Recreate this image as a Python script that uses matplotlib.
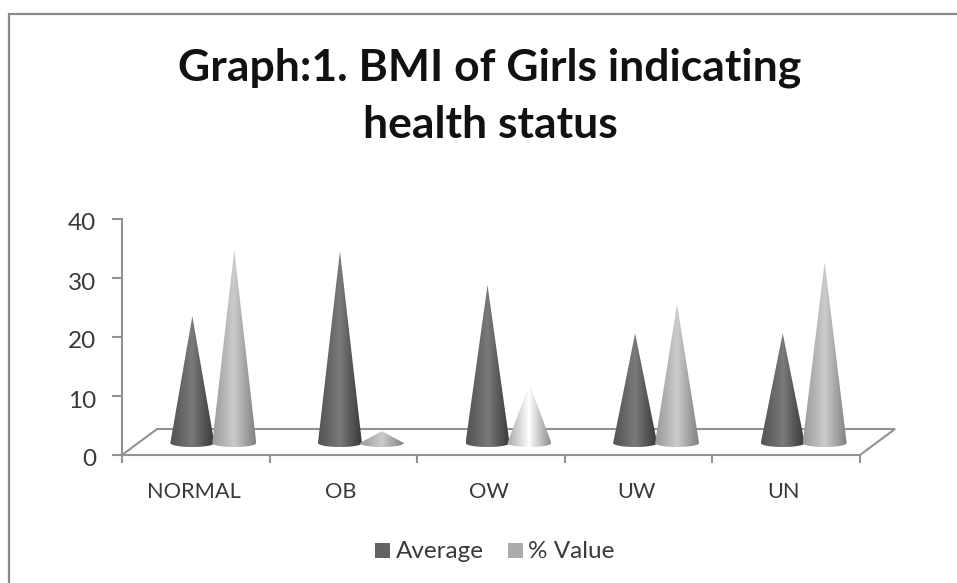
import matplotlib
matplotlib.use("Agg")
import matplotlib.pyplot as plt
import numpy as np
from matplotlib.lines import Line2D
from matplotlib.patches import PathPatch, Rectangle
from matplotlib.path import Path
from matplotlib.transforms import ScaledTranslation

plt.rcParams['font.family'] = ['Lato', 'DejaVu Sans']

# values
categories = ["NORMAL", "OB", "OW", "UW", "UN"]
average = [21.5, 32.5, 26.8, 18.6, 18.6]
pct_value = [32.7, 2.0, 10.0, 23.5, 30.7]
yticks = [0, 10, 20, 30, 40]

W, H = 957, 583
fig = plt.figure(figsize=(W / 100, H / 100), dpi=100)
fig.patch.set_facecolor("white")

# plot box in pixels
x0, x1, y_top, y_bot = 122, 860, 219, 455
ax = fig.add_axes([x0 / W, 1 - y_bot / H, (x1 - x0) / W, (y_bot - y_top) / H])
ax.set_facecolor("none")

grey = "#929292"
text_col = "#3a3a3a"
depth_x = 35 / 147.6
depth_y = 26 / 5.9

def draw_cone(xc, val, edge, mid, half_w=0.149, base=2.03, ell=0.68):
    # gradient strip clipped to the cone outline
    t = np.linspace(-1, 1, 128)
    g = edge + (mid - edge) * (1 - np.abs(t)) ** 1.1
    g = np.clip(g - 0.05 * t, 0, 1)
    im = ax.imshow(g[None, :], cmap="gray", vmin=0, vmax=1, aspect="auto",
                   extent=[xc - half_w, xc + half_w, base - ell, base + val],
                   zorder=3, clip_on=True)
    ang = np.linspace(np.pi, 2 * np.pi, 40)
    verts = [(xc, base + val)] + [(xc + half_w * np.cos(a), base + ell * np.sin(a)) for a in ang]
    verts.append((xc, base + val))
    codes = [Path.MOVETO] + [Path.LINETO] * (len(verts) - 2) + [Path.CLOSEPOLY]
    clip = PathPatch(Path(verts, codes), transform=ax.transData, fc="none", ec="none")
    ax.add_patch(clip)
    im.set_clip_path(clip)

# cones, drawn left to right like the original
for i in range(len(categories)):
    xc = i + 0.5 + depth_x / 2
    draw_cone(xc - 0.142, average[i], 0.28, 0.48)
    if i == 2:
        draw_cone(xc + 0.142, pct_value[i], 0.62, 1.0)
    else:
        draw_cone(xc + 0.142, pct_value[i], 0.56, 0.80)

ax.set_xlim(0, 5)
ax.set_ylim(0, 40)

# floor of the 3D box
ax.plot([0, depth_x, 5 + depth_x, 5], [0, depth_y, depth_y, 0], color=grey, lw=1.5,
        clip_on=False, zorder=2, solid_joinstyle="miter")

ax.set_xticks(np.arange(6))
ax.set_xticklabels([])
ax.set_yticks(yticks)
ax.tick_params(axis="y", length=7, width=1.5, color=grey, labelsize=17.5, labelcolor=text_col, pad=11.5)
ax.tick_params(axis="x", length=6, width=1.5, color=grey)
for s in ["top", "right"]:
    ax.spines[s].set_visible(False)
for s in ["left", "bottom"]:
    ax.spines[s].set_color(grey)
    ax.spines[s].set_linewidth(1.5)
# y labels sit a little under their ticks in the original
for lab in ax.get_yticklabels():
    lab.set_transform(lab.get_transform() + ScaledTranslation(0, -3 / 100, fig.dpi_scale_trans))

for i, c in enumerate(categories):
    ax.text(i + 0.485, -7.3, c, ha="center", va="baseline", fontsize=15.7, color=text_col)

# title and legend placed in figure pixels
fig.text(490 / W, 1 - 81 / H, "Graph:1. BMI of Girls indicating", ha="center", va="baseline",
         fontsize=32, fontweight="bold", color="#111111")
fig.text(490 / W, 1 - 138 / H, "health status", ha="center", va="baseline",
         fontsize=32, fontweight="bold", color="#111111")

fig.patches.append(Rectangle((375 / W, 1 - 558 / H), 15 / W, 15 / H, transform=fig.transFigure,
                             fc="#636363", ec="none"))
fig.text(396 / W, 1 - 558 / H, "Average", ha="left", va="baseline", fontsize=17.5, color=text_col)
fig.patches.append(Rectangle((508 / W, 1 - 558 / H), 15 / W, 15 / H, transform=fig.transFigure,
                             fc="#ababab", ec="none"))
fig.text(528 / W, 1 - 558 / H, "% Value", ha="left", va="baseline", fontsize=17.5, color=text_col)

# chart frame: only top and left edges are inside the crop
fig.add_artist(Line2D([9 / W, 9 / W, 1], [0, 1 - 14 / H, 1 - 14 / H], color="#8a8a8a", lw=1.6,
                      transform=fig.transFigure, solid_joinstyle="miter"))

fig.savefig("out.png", dpi=100)
